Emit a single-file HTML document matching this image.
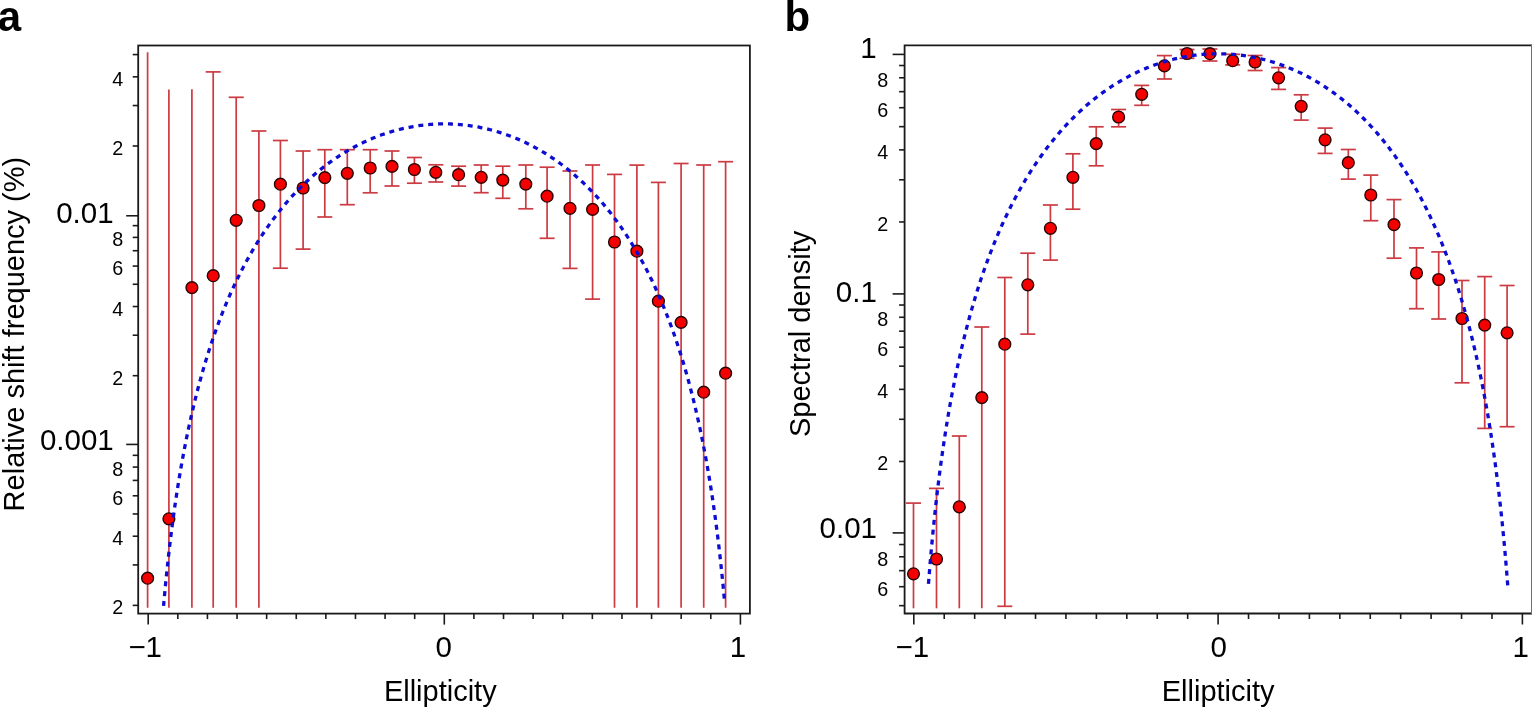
<!DOCTYPE html>
<html><head><meta charset="utf-8"><title>Ellipticity plots</title>
<style>
html,body{margin:0;padding:0;background:#fff;}
body{width:1532px;height:708px;overflow:hidden;}
svg{display:block;}
text{font-family:'Liberation Sans', Arial, Helvetica, sans-serif;fill:#000;}
</style></head>
<body>
<svg width="1532" height="708" viewBox="0 0 1532 708">
<rect width="1532" height="708" fill="#fff"/>
<g stroke="#cc3a42" stroke-width="1.7" fill="none">
<line x1="147.60" y1="52.20" x2="147.60" y2="607.80"/>
<line x1="168.90" y1="89.50" x2="168.90" y2="607.80"/>
<line x1="191.90" y1="89.20" x2="191.90" y2="607.80"/>
<line x1="213.20" y1="71.90" x2="213.20" y2="607.80"/>
<line x1="205.70" y1="71.90" x2="220.70" y2="71.90"/>
<line x1="236.20" y1="97.30" x2="236.20" y2="607.80"/>
<line x1="228.70" y1="97.30" x2="243.70" y2="97.30"/>
<line x1="258.90" y1="131.00" x2="258.90" y2="607.80"/>
<line x1="251.40" y1="131.00" x2="266.40" y2="131.00"/>
<line x1="280.40" y1="140.50" x2="280.40" y2="268.20"/>
<line x1="272.90" y1="140.50" x2="287.90" y2="140.50"/>
<line x1="272.90" y1="268.20" x2="287.90" y2="268.20"/>
<line x1="303.10" y1="151.00" x2="303.10" y2="249.10"/>
<line x1="295.60" y1="151.00" x2="310.60" y2="151.00"/>
<line x1="295.60" y1="249.10" x2="310.60" y2="249.10"/>
<line x1="324.80" y1="149.70" x2="324.80" y2="217.00"/>
<line x1="317.30" y1="149.70" x2="332.30" y2="149.70"/>
<line x1="317.30" y1="217.00" x2="332.30" y2="217.00"/>
<line x1="347.30" y1="149.70" x2="347.30" y2="204.70"/>
<line x1="339.80" y1="149.70" x2="354.80" y2="149.70"/>
<line x1="339.80" y1="204.70" x2="354.80" y2="204.70"/>
<line x1="370.20" y1="149.70" x2="370.20" y2="192.80"/>
<line x1="362.70" y1="149.70" x2="377.70" y2="149.70"/>
<line x1="362.70" y1="192.80" x2="377.70" y2="192.80"/>
<line x1="392.00" y1="151.00" x2="392.00" y2="186.00"/>
<line x1="384.50" y1="151.00" x2="399.50" y2="151.00"/>
<line x1="384.50" y1="186.00" x2="399.50" y2="186.00"/>
<line x1="414.40" y1="157.50" x2="414.40" y2="183.20"/>
<line x1="406.90" y1="157.50" x2="421.90" y2="157.50"/>
<line x1="406.90" y1="183.20" x2="421.90" y2="183.20"/>
<line x1="435.80" y1="164.80" x2="435.80" y2="182.00"/>
<line x1="428.30" y1="164.80" x2="443.30" y2="164.80"/>
<line x1="428.30" y1="182.00" x2="443.30" y2="182.00"/>
<line x1="458.60" y1="166.20" x2="458.60" y2="186.10"/>
<line x1="451.10" y1="166.20" x2="466.10" y2="166.20"/>
<line x1="451.10" y1="186.10" x2="466.10" y2="186.10"/>
<line x1="481.20" y1="165.00" x2="481.20" y2="192.70"/>
<line x1="473.70" y1="165.00" x2="488.70" y2="165.00"/>
<line x1="473.70" y1="192.70" x2="488.70" y2="192.70"/>
<line x1="502.80" y1="166.20" x2="502.80" y2="198.30"/>
<line x1="495.30" y1="166.20" x2="510.30" y2="166.20"/>
<line x1="495.30" y1="198.30" x2="510.30" y2="198.30"/>
<line x1="525.80" y1="165.00" x2="525.80" y2="208.80"/>
<line x1="518.30" y1="165.00" x2="533.30" y2="165.00"/>
<line x1="518.30" y1="208.80" x2="533.30" y2="208.80"/>
<line x1="547.10" y1="167.20" x2="547.10" y2="238.30"/>
<line x1="539.60" y1="167.20" x2="554.60" y2="167.20"/>
<line x1="539.60" y1="238.30" x2="554.60" y2="238.30"/>
<line x1="570.00" y1="171.00" x2="570.00" y2="268.40"/>
<line x1="562.50" y1="171.00" x2="577.50" y2="171.00"/>
<line x1="562.50" y1="268.40" x2="577.50" y2="268.40"/>
<line x1="592.60" y1="165.00" x2="592.60" y2="299.10"/>
<line x1="585.10" y1="165.00" x2="600.10" y2="165.00"/>
<line x1="585.10" y1="299.10" x2="600.10" y2="299.10"/>
<line x1="614.50" y1="174.40" x2="614.50" y2="607.80"/>
<line x1="607.00" y1="174.40" x2="622.00" y2="174.40"/>
<line x1="636.90" y1="165.10" x2="636.90" y2="607.80"/>
<line x1="629.40" y1="165.10" x2="644.40" y2="165.10"/>
<line x1="658.40" y1="182.40" x2="658.40" y2="607.80"/>
<line x1="650.90" y1="182.40" x2="665.90" y2="182.40"/>
<line x1="681.10" y1="163.50" x2="681.10" y2="607.80"/>
<line x1="673.60" y1="163.50" x2="688.60" y2="163.50"/>
<line x1="703.70" y1="165.00" x2="703.70" y2="607.80"/>
<line x1="696.20" y1="165.00" x2="711.20" y2="165.00"/>
<line x1="725.60" y1="161.70" x2="725.60" y2="607.80"/>
<line x1="718.10" y1="161.70" x2="733.10" y2="161.70"/>
</g>
<g fill="#f40000" stroke="#2a0505" stroke-width="1.4">
<circle cx="147.60" cy="578.20" r="5.9"/>
<circle cx="168.90" cy="518.80" r="5.9"/>
<circle cx="191.90" cy="287.60" r="5.9"/>
<circle cx="213.20" cy="275.70" r="5.9"/>
<circle cx="236.20" cy="220.30" r="5.9"/>
<circle cx="258.90" cy="205.50" r="5.9"/>
<circle cx="280.40" cy="184.20" r="5.9"/>
<circle cx="303.10" cy="188.00" r="5.9"/>
<circle cx="324.80" cy="177.60" r="5.9"/>
<circle cx="347.30" cy="173.30" r="5.9"/>
<circle cx="370.20" cy="168.00" r="5.9"/>
<circle cx="392.00" cy="166.40" r="5.9"/>
<circle cx="414.40" cy="169.50" r="5.9"/>
<circle cx="435.80" cy="172.30" r="5.9"/>
<circle cx="458.60" cy="174.70" r="5.9"/>
<circle cx="481.20" cy="177.30" r="5.9"/>
<circle cx="502.80" cy="180.10" r="5.9"/>
<circle cx="525.80" cy="184.10" r="5.9"/>
<circle cx="547.10" cy="196.20" r="5.9"/>
<circle cx="570.00" cy="208.30" r="5.9"/>
<circle cx="592.60" cy="209.40" r="5.9"/>
<circle cx="614.50" cy="242.00" r="5.9"/>
<circle cx="636.90" cy="251.20" r="5.9"/>
<circle cx="658.40" cy="301.20" r="5.9"/>
<circle cx="681.10" cy="322.40" r="5.9"/>
<circle cx="703.70" cy="392.20" r="5.9"/>
<circle cx="725.60" cy="373.20" r="5.9"/>
</g>
<polyline points="163.55,605.96 164.95,590.52 166.35,576.19 167.76,562.83 169.16,550.30 170.56,538.51 171.96,527.37 173.37,516.82 174.77,506.80 176.17,497.26 177.57,488.15 178.98,479.43 180.38,471.08 181.78,463.07 183.19,455.37 184.59,447.95 185.99,440.81 187.39,433.91 188.80,427.25 190.20,420.81 191.60,414.57 193.01,408.53 194.41,402.67 195.81,396.98 197.21,391.45 198.62,386.09 200.02,380.86 201.42,375.78 202.82,370.84 204.23,366.01 205.63,361.32 207.03,356.73 208.44,352.26 209.84,347.90 211.24,343.63 212.64,339.47 214.05,335.40 215.45,331.42 216.85,327.52 218.26,323.72 219.66,319.99 221.06,316.34 222.46,312.76 223.87,309.26 225.27,305.83 226.67,302.47 228.07,299.17 229.48,295.94 230.88,292.76 232.28,289.65 233.69,286.60 235.09,283.60 236.49,280.66 237.89,277.77 239.30,274.94 240.70,272.15 242.10,269.42 243.51,266.73 244.91,264.09 246.31,261.49 247.71,258.94 249.12,256.43 250.52,253.96 251.92,251.54 253.32,249.15 254.73,246.81 256.13,244.50 257.53,242.23 258.94,240.00 260.34,237.80 261.74,235.64 263.14,233.51 264.55,231.42 265.95,229.36 267.35,227.33 268.76,225.33 270.16,223.37 271.56,221.43 272.96,219.53 274.37,217.65 275.77,215.80 277.17,213.98 278.57,212.19 279.98,210.43 281.38,208.69 282.78,206.98 284.19,205.29 285.59,203.63 286.99,202.00 288.39,200.39 289.80,198.80 291.20,197.24 292.60,195.70 294.01,194.19 295.41,192.69 296.81,191.22 298.21,189.77 299.62,188.35 301.02,186.94 302.42,185.56 303.82,184.19 305.23,182.85 306.63,181.53 308.03,180.22 309.44,178.94 310.84,177.68 312.24,176.43 313.64,175.21 315.05,174.00 316.45,172.81 317.85,171.64 319.26,170.49 320.66,169.35 322.06,168.24 323.46,167.14 324.87,166.05 326.27,164.99 327.67,163.94 329.07,162.91 330.48,161.89 331.88,160.89 333.28,159.91 334.69,158.94 336.09,157.99 337.49,157.05 338.89,156.13 340.30,155.23 341.70,154.34 343.10,153.46 344.51,152.60 345.91,151.76 347.31,150.92 348.71,150.11 350.12,149.31 351.52,148.52 352.92,147.74 354.32,146.98 355.73,146.24 357.13,145.51 358.53,144.79 359.94,144.08 361.34,143.39 362.74,142.71 364.14,142.05 365.55,141.40 366.95,140.76 368.35,140.13 369.75,139.52 371.16,138.92 372.56,138.33 373.96,137.76 375.37,137.19 376.77,136.64 378.17,136.11 379.57,135.58 380.98,135.07 382.38,134.57 383.78,134.08 385.19,133.60 386.59,133.14 387.99,132.69 389.39,132.25 390.80,131.82 392.20,131.40 393.60,131.00 395.00,130.60 396.41,130.22 397.81,129.85 399.21,129.49 400.62,129.14 402.02,128.81 403.42,128.48 404.82,128.17 406.23,127.87 407.63,127.58 409.03,127.30 410.44,127.03 411.84,126.77 413.24,126.53 414.64,126.29 416.05,126.07 417.45,125.85 418.85,125.65 420.25,125.46 421.66,125.28 423.06,125.11 424.46,124.95 425.87,124.81 427.27,124.67 428.67,124.55 430.07,124.43 431.48,124.33 432.88,124.23 434.28,124.15 435.69,124.08 437.09,124.02 438.49,123.97 439.89,123.93 441.30,123.90 442.70,123.89 444.10,123.88 445.50,123.88 446.91,123.90 448.31,123.93 449.71,123.96 451.12,124.01 452.52,124.07 453.92,124.14 455.32,124.22 456.73,124.31 458.13,124.41 459.53,124.52 460.94,124.64 462.34,124.78 463.74,124.92 465.14,125.08 466.55,125.24 467.95,125.42 469.35,125.61 470.75,125.81 472.16,126.02 473.56,126.24 474.96,126.47 476.37,126.72 477.77,126.97 479.17,127.24 480.57,127.52 481.98,127.80 483.38,128.10 484.78,128.42 486.19,128.74 487.59,129.07 488.99,129.42 490.39,129.77 491.80,130.14 493.20,130.52 494.60,130.91 496.00,131.31 497.41,131.73 498.81,132.15 500.21,132.59 501.62,133.04 503.02,133.50 504.42,133.98 505.82,134.46 507.23,134.96 508.63,135.47 510.03,135.99 511.44,136.53 512.84,137.08 514.24,137.64 515.64,138.21 517.05,138.79 518.45,139.39 519.85,140.00 521.25,140.62 522.66,141.26 524.06,141.91 525.46,142.57 526.87,143.25 528.27,143.94 529.67,144.64 531.07,145.35 532.48,146.08 533.88,146.83 535.28,147.58 536.69,148.35 538.09,149.14 539.49,149.94 540.89,150.75 542.30,151.58 543.70,152.42 545.10,153.28 546.50,154.15 547.91,155.04 549.31,155.94 550.71,156.86 552.12,157.79 553.52,158.74 554.92,159.70 556.32,160.68 557.73,161.68 559.13,162.69 560.53,163.72 561.93,164.76 563.34,165.83 564.74,166.91 566.14,168.00 567.55,169.11 568.95,170.25 570.35,171.39 571.75,172.56 573.16,173.75 574.56,174.95 575.96,176.17 577.37,177.41 578.77,178.67 580.17,179.95 581.57,181.25 582.98,182.57 584.38,183.91 585.78,185.27 587.18,186.65 588.59,188.05 589.99,189.47 591.39,190.91 592.80,192.38 594.20,193.87 595.60,195.38 597.00,196.91 598.41,198.47 599.81,200.05 601.21,201.66 602.62,203.29 604.02,204.94 605.42,206.62 606.82,208.33 608.23,210.06 609.63,211.82 611.03,213.60 612.43,215.42 613.84,217.26 615.24,219.13 616.64,221.03 618.05,222.96 619.45,224.91 620.85,226.90 622.25,228.93 623.66,230.98 625.06,233.07 626.46,235.19 627.87,237.34 629.27,239.53 630.67,241.76 632.07,244.02 633.48,246.32 634.88,248.66 636.28,251.03 637.68,253.45 639.09,255.91 640.49,258.41 641.89,260.95 643.30,263.54 644.70,266.17 646.10,268.85 647.50,271.57 648.91,274.35 650.31,277.17 651.71,280.05 653.12,282.98 654.52,285.96 655.92,289.00 657.32,292.10 658.73,295.26 660.13,298.48 661.53,301.76 662.93,305.11 664.34,308.53 665.74,312.02 667.14,315.58 668.55,319.21 669.95,322.92 671.35,326.71 672.75,330.59 674.16,334.55 675.56,338.60 676.96,342.75 678.37,346.99 679.77,351.33 681.17,355.78 682.57,360.34 683.98,365.01 685.38,369.81 686.78,374.73 688.18,379.78 689.59,384.97 690.99,390.31 692.39,395.80 693.80,401.45 695.20,407.27 696.60,413.28 698.00,419.47 699.41,425.87 700.81,432.49 702.21,439.33 703.62,446.42 705.02,453.78 706.42,461.42 707.82,469.37 709.23,477.64 710.63,486.27 712.03,495.30 713.43,504.75 714.84,514.66 716.24,525.10 717.64,536.10 719.05,547.75 720.45,560.12 721.85,573.30 723.25,587.41 724.66,602.60" fill="none" stroke="#0c0cd2" stroke-width="3.3" stroke-dasharray="5.0 4.9"/>
<rect x="138.2" y="45.5" width="611.7" height="568.1" fill="none" stroke="#1a1a1a" stroke-width="1.8"/>
<g stroke="#1a1a1a" stroke-width="1.6">
<line x1="126.20" y1="215.77" x2="138.2" y2="215.77"/>
<line x1="126.20" y1="444.43" x2="138.2" y2="444.43"/>
<line x1="132.7" y1="605.37" x2="138.2" y2="605.37"/>
<line x1="132.7" y1="564.92" x2="138.2" y2="564.92"/>
<line x1="132.7" y1="536.22" x2="138.2" y2="536.22"/>
<line x1="132.7" y1="513.96" x2="138.2" y2="513.96"/>
<line x1="132.7" y1="495.78" x2="138.2" y2="495.78"/>
<line x1="132.7" y1="480.40" x2="138.2" y2="480.40"/>
<line x1="132.7" y1="467.08" x2="138.2" y2="467.08"/>
<line x1="132.7" y1="455.33" x2="138.2" y2="455.33"/>
<line x1="132.7" y1="375.68" x2="138.2" y2="375.68"/>
<line x1="132.7" y1="335.23" x2="138.2" y2="335.23"/>
<line x1="132.7" y1="306.53" x2="138.2" y2="306.53"/>
<line x1="132.7" y1="284.27" x2="138.2" y2="284.27"/>
<line x1="132.7" y1="266.09" x2="138.2" y2="266.09"/>
<line x1="132.7" y1="250.71" x2="138.2" y2="250.71"/>
<line x1="132.7" y1="237.39" x2="138.2" y2="237.39"/>
<line x1="132.7" y1="225.64" x2="138.2" y2="225.64"/>
<line x1="132.7" y1="145.99" x2="138.2" y2="145.99"/>
<line x1="132.7" y1="105.54" x2="138.2" y2="105.54"/>
<line x1="132.7" y1="76.84" x2="138.2" y2="76.84"/>
<line x1="132.7" y1="54.58" x2="138.2" y2="54.58"/>
<line x1="148.20" y1="613.6" x2="148.20" y2="624.6"/>
<line x1="177.81" y1="613.6" x2="177.81" y2="619.1"/>
<line x1="207.42" y1="613.6" x2="207.42" y2="619.1"/>
<line x1="237.03" y1="613.6" x2="237.03" y2="619.1"/>
<line x1="266.64" y1="613.6" x2="266.64" y2="619.1"/>
<line x1="296.25" y1="613.6" x2="296.25" y2="619.1"/>
<line x1="325.86" y1="613.6" x2="325.86" y2="619.1"/>
<line x1="355.47" y1="613.6" x2="355.47" y2="619.1"/>
<line x1="385.08" y1="613.6" x2="385.08" y2="619.1"/>
<line x1="414.69" y1="613.6" x2="414.69" y2="619.1"/>
<line x1="444.30" y1="613.6" x2="444.30" y2="624.6"/>
<line x1="473.91" y1="613.6" x2="473.91" y2="619.1"/>
<line x1="503.52" y1="613.6" x2="503.52" y2="619.1"/>
<line x1="533.13" y1="613.6" x2="533.13" y2="619.1"/>
<line x1="562.74" y1="613.6" x2="562.74" y2="619.1"/>
<line x1="592.35" y1="613.6" x2="592.35" y2="619.1"/>
<line x1="621.96" y1="613.6" x2="621.96" y2="619.1"/>
<line x1="651.57" y1="613.6" x2="651.57" y2="619.1"/>
<line x1="681.18" y1="613.6" x2="681.18" y2="619.1"/>
<line x1="710.79" y1="613.6" x2="710.79" y2="619.1"/>
<line x1="740.40" y1="613.6" x2="740.40" y2="624.6"/>
</g>
<g stroke="#cc3a42" stroke-width="1.7" fill="none">
<line x1="913.50" y1="503.10" x2="913.50" y2="608.30"/>
<line x1="906.00" y1="503.10" x2="921.00" y2="503.10"/>
<line x1="936.50" y1="488.40" x2="936.50" y2="608.30"/>
<line x1="929.00" y1="488.40" x2="944.00" y2="488.40"/>
<line x1="959.30" y1="436.00" x2="959.30" y2="608.30"/>
<line x1="951.80" y1="436.00" x2="966.80" y2="436.00"/>
<line x1="981.80" y1="327.00" x2="981.80" y2="608.30"/>
<line x1="974.30" y1="327.00" x2="989.30" y2="327.00"/>
<line x1="1004.80" y1="277.50" x2="1004.80" y2="606.30"/>
<line x1="997.30" y1="277.50" x2="1012.30" y2="277.50"/>
<line x1="997.30" y1="606.30" x2="1012.30" y2="606.30"/>
<line x1="1027.80" y1="253.20" x2="1027.80" y2="334.10"/>
<line x1="1020.30" y1="253.20" x2="1035.30" y2="253.20"/>
<line x1="1020.30" y1="334.10" x2="1035.30" y2="334.10"/>
<line x1="1050.40" y1="205.00" x2="1050.40" y2="260.10"/>
<line x1="1042.90" y1="205.00" x2="1057.90" y2="205.00"/>
<line x1="1042.90" y1="260.10" x2="1057.90" y2="260.10"/>
<line x1="1072.90" y1="153.80" x2="1072.90" y2="209.20"/>
<line x1="1065.40" y1="153.80" x2="1080.40" y2="153.80"/>
<line x1="1065.40" y1="209.20" x2="1080.40" y2="209.20"/>
<line x1="1096.20" y1="126.80" x2="1096.20" y2="165.80"/>
<line x1="1088.70" y1="126.80" x2="1103.70" y2="126.80"/>
<line x1="1088.70" y1="165.80" x2="1103.70" y2="165.80"/>
<line x1="1118.60" y1="109.50" x2="1118.60" y2="126.80"/>
<line x1="1111.10" y1="109.50" x2="1126.10" y2="109.50"/>
<line x1="1111.10" y1="126.80" x2="1126.10" y2="126.80"/>
<line x1="1141.70" y1="85.40" x2="1141.70" y2="105.30"/>
<line x1="1134.20" y1="85.40" x2="1149.20" y2="85.40"/>
<line x1="1134.20" y1="105.30" x2="1149.20" y2="105.30"/>
<line x1="1164.40" y1="55.60" x2="1164.40" y2="79.00"/>
<line x1="1156.90" y1="55.60" x2="1171.90" y2="55.60"/>
<line x1="1156.90" y1="79.00" x2="1171.90" y2="79.00"/>
<line x1="1187.00" y1="49.50" x2="1187.00" y2="58.30"/>
<line x1="1179.50" y1="49.50" x2="1194.50" y2="49.50"/>
<line x1="1179.50" y1="58.30" x2="1194.50" y2="58.30"/>
<line x1="1209.90" y1="49.00" x2="1209.90" y2="61.00"/>
<line x1="1202.40" y1="49.00" x2="1217.40" y2="49.00"/>
<line x1="1202.40" y1="61.00" x2="1217.40" y2="61.00"/>
<line x1="1232.70" y1="54.30" x2="1232.70" y2="64.90"/>
<line x1="1225.20" y1="54.30" x2="1240.20" y2="54.30"/>
<line x1="1225.20" y1="64.90" x2="1240.20" y2="64.90"/>
<line x1="1255.10" y1="55.50" x2="1255.10" y2="70.50"/>
<line x1="1247.60" y1="55.50" x2="1262.60" y2="55.50"/>
<line x1="1247.60" y1="70.50" x2="1262.60" y2="70.50"/>
<line x1="1278.60" y1="67.60" x2="1278.60" y2="89.40"/>
<line x1="1271.10" y1="67.60" x2="1286.10" y2="67.60"/>
<line x1="1271.10" y1="89.40" x2="1286.10" y2="89.40"/>
<line x1="1301.20" y1="94.80" x2="1301.20" y2="120.10"/>
<line x1="1293.70" y1="94.80" x2="1308.70" y2="94.80"/>
<line x1="1293.70" y1="120.10" x2="1308.70" y2="120.10"/>
<line x1="1325.10" y1="128.10" x2="1325.10" y2="153.40"/>
<line x1="1317.60" y1="128.10" x2="1332.60" y2="128.10"/>
<line x1="1317.60" y1="153.40" x2="1332.60" y2="153.40"/>
<line x1="1348.30" y1="149.50" x2="1348.30" y2="179.10"/>
<line x1="1340.80" y1="149.50" x2="1355.80" y2="149.50"/>
<line x1="1340.80" y1="179.10" x2="1355.80" y2="179.10"/>
<line x1="1370.80" y1="175.10" x2="1370.80" y2="220.70"/>
<line x1="1363.30" y1="175.10" x2="1378.30" y2="175.10"/>
<line x1="1363.30" y1="220.70" x2="1378.30" y2="220.70"/>
<line x1="1394.00" y1="199.60" x2="1394.00" y2="258.20"/>
<line x1="1386.50" y1="199.60" x2="1401.50" y2="199.60"/>
<line x1="1386.50" y1="258.20" x2="1401.50" y2="258.20"/>
<line x1="1416.50" y1="247.90" x2="1416.50" y2="308.70"/>
<line x1="1409.00" y1="247.90" x2="1424.00" y2="247.90"/>
<line x1="1409.00" y1="308.70" x2="1424.00" y2="308.70"/>
<line x1="1438.70" y1="251.90" x2="1438.70" y2="319.00"/>
<line x1="1431.20" y1="251.90" x2="1446.20" y2="251.90"/>
<line x1="1431.20" y1="319.00" x2="1446.20" y2="319.00"/>
<line x1="1462.00" y1="280.50" x2="1462.00" y2="382.80"/>
<line x1="1454.50" y1="280.50" x2="1469.50" y2="280.50"/>
<line x1="1454.50" y1="382.80" x2="1469.50" y2="382.80"/>
<line x1="1484.70" y1="276.60" x2="1484.70" y2="428.40"/>
<line x1="1477.20" y1="276.60" x2="1492.20" y2="276.60"/>
<line x1="1477.20" y1="428.40" x2="1492.20" y2="428.40"/>
<line x1="1507.10" y1="285.50" x2="1507.10" y2="426.70"/>
<line x1="1499.60" y1="285.50" x2="1514.60" y2="285.50"/>
<line x1="1499.60" y1="426.70" x2="1514.60" y2="426.70"/>
</g>
<g fill="#f40000" stroke="#2a0505" stroke-width="1.4">
<circle cx="913.50" cy="573.80" r="5.9"/>
<circle cx="936.50" cy="559.00" r="5.9"/>
<circle cx="959.30" cy="506.80" r="5.9"/>
<circle cx="981.80" cy="397.60" r="5.9"/>
<circle cx="1004.80" cy="344.20" r="5.9"/>
<circle cx="1027.80" cy="284.80" r="5.9"/>
<circle cx="1050.40" cy="228.30" r="5.9"/>
<circle cx="1072.90" cy="177.30" r="5.9"/>
<circle cx="1096.20" cy="143.60" r="5.9"/>
<circle cx="1118.60" cy="117.00" r="5.9"/>
<circle cx="1141.70" cy="94.30" r="5.9"/>
<circle cx="1164.40" cy="65.90" r="5.9"/>
<circle cx="1187.00" cy="53.50" r="5.9"/>
<circle cx="1209.90" cy="53.70" r="5.9"/>
<circle cx="1232.70" cy="60.70" r="5.9"/>
<circle cx="1255.10" cy="62.00" r="5.9"/>
<circle cx="1278.60" cy="77.80" r="5.9"/>
<circle cx="1301.20" cy="106.30" r="5.9"/>
<circle cx="1325.10" cy="139.80" r="5.9"/>
<circle cx="1348.30" cy="162.70" r="5.9"/>
<circle cx="1370.80" cy="195.00" r="5.9"/>
<circle cx="1394.00" cy="224.60" r="5.9"/>
<circle cx="1416.50" cy="273.00" r="5.9"/>
<circle cx="1438.70" cy="279.50" r="5.9"/>
<circle cx="1462.00" cy="318.50" r="5.9"/>
<circle cx="1484.70" cy="325.10" r="5.9"/>
<circle cx="1507.10" cy="332.80" r="5.9"/>
</g>
<polyline points="928.46,583.95 929.91,565.88 931.36,549.22 932.81,533.77 934.26,519.37 935.70,505.88 937.15,493.20 938.60,481.22 940.05,469.88 941.50,459.12 942.95,448.87 944.40,439.10 945.85,429.76 947.29,420.81 948.74,412.22 950.19,403.98 951.64,396.04 953.09,388.40 954.54,381.02 955.99,373.90 957.44,367.02 958.88,360.36 960.33,353.91 961.78,347.65 963.23,341.58 964.68,335.69 966.13,329.97 967.58,324.41 969.02,318.99 970.47,313.72 971.92,308.59 973.37,303.59 974.82,298.72 976.27,293.96 977.72,289.32 979.17,284.79 980.61,280.36 982.06,276.04 983.51,271.81 984.96,267.67 986.41,263.63 987.86,259.67 989.31,255.80 990.76,252.01 992.20,248.29 993.65,244.66 995.10,241.09 996.55,237.60 998.00,234.17 999.45,230.81 1000.90,227.52 1002.34,224.28 1003.79,221.11 1005.24,218.00 1006.69,214.94 1008.14,211.94 1009.59,209.00 1011.04,206.10 1012.49,203.26 1013.93,200.47 1015.38,197.72 1016.83,195.03 1018.28,192.38 1019.73,189.77 1021.18,187.21 1022.63,184.69 1024.08,182.21 1025.52,179.78 1026.97,177.38 1028.42,175.03 1029.87,172.71 1031.32,170.43 1032.77,168.18 1034.22,165.98 1035.67,163.80 1037.11,161.67 1038.56,159.56 1040.01,157.49 1041.46,155.45 1042.91,153.44 1044.36,151.47 1045.81,149.52 1047.25,147.61 1048.70,145.72 1050.15,143.86 1051.60,142.04 1053.05,140.24 1054.50,138.46 1055.95,136.72 1057.40,135.00 1058.84,133.30 1060.29,131.64 1061.74,129.99 1063.19,128.38 1064.64,126.78 1066.09,125.22 1067.54,123.67 1068.99,122.15 1070.43,120.65 1071.88,119.18 1073.33,117.72 1074.78,116.29 1076.23,114.88 1077.68,113.49 1079.13,112.13 1080.58,110.78 1082.02,109.46 1083.47,108.15 1084.92,106.87 1086.37,105.60 1087.82,104.35 1089.27,103.13 1090.72,101.92 1092.16,100.73 1093.61,99.56 1095.06,98.41 1096.51,97.28 1097.96,96.16 1099.41,95.07 1100.86,93.99 1102.31,92.93 1103.75,91.88 1105.20,90.85 1106.65,89.84 1108.10,88.85 1109.55,87.87 1111.00,86.91 1112.45,85.96 1113.90,85.03 1115.34,84.12 1116.79,83.22 1118.24,82.34 1119.69,81.47 1121.14,80.62 1122.59,79.79 1124.04,78.97 1125.48,78.16 1126.93,77.37 1128.38,76.59 1129.83,75.83 1131.28,75.08 1132.73,74.35 1134.18,73.63 1135.63,72.92 1137.07,72.23 1138.52,71.56 1139.97,70.89 1141.42,70.24 1142.87,69.61 1144.32,68.99 1145.77,68.38 1147.22,67.78 1148.66,67.20 1150.11,66.63 1151.56,66.08 1153.01,65.53 1154.46,65.00 1155.91,64.49 1157.36,63.98 1158.81,63.49 1160.25,63.01 1161.70,62.55 1163.15,62.10 1164.60,61.65 1166.05,61.23 1167.50,60.81 1168.95,60.41 1170.39,60.02 1171.84,59.64 1173.29,59.27 1174.74,58.92 1176.19,58.57 1177.64,58.24 1179.09,57.92 1180.54,57.62 1181.98,57.32 1183.43,57.04 1184.88,56.77 1186.33,56.51 1187.78,56.26 1189.23,56.03 1190.68,55.80 1192.13,55.59 1193.57,55.39 1195.02,55.20 1196.47,55.03 1197.92,54.86 1199.37,54.71 1200.82,54.56 1202.27,54.43 1203.72,54.31 1205.16,54.21 1206.61,54.11 1208.06,54.03 1209.51,53.95 1210.96,53.89 1212.41,53.84 1213.86,53.80 1215.30,53.77 1216.75,53.76 1218.20,53.75 1219.65,53.76 1221.10,53.78 1222.55,53.81 1224.00,53.85 1225.45,53.90 1226.89,53.97 1228.34,54.04 1229.79,54.13 1231.24,54.23 1232.69,54.34 1234.14,54.46 1235.59,54.59 1237.04,54.74 1238.48,54.89 1239.93,55.06 1241.38,55.24 1242.83,55.43 1244.28,55.64 1245.73,55.85 1247.18,56.08 1248.63,56.31 1250.07,56.56 1251.52,56.83 1252.97,57.10 1254.42,57.38 1255.87,57.68 1257.32,57.99 1258.77,58.31 1260.21,58.64 1261.66,58.99 1263.11,59.35 1264.56,59.72 1266.01,60.10 1267.46,60.49 1268.91,60.90 1270.36,61.32 1271.80,61.75 1273.25,62.19 1274.70,62.65 1276.15,63.11 1277.60,63.59 1279.05,64.09 1280.50,64.60 1281.95,65.11 1283.39,65.65 1284.84,66.19 1286.29,66.75 1287.74,67.32 1289.19,67.91 1290.64,68.51 1292.09,69.12 1293.53,69.74 1294.98,70.38 1296.43,71.03 1297.88,71.70 1299.33,72.38 1300.78,73.07 1302.23,73.78 1303.68,74.50 1305.12,75.24 1306.57,75.99 1308.02,76.75 1309.47,77.53 1310.92,78.33 1312.37,79.14 1313.82,79.96 1315.27,80.80 1316.71,81.65 1318.16,82.52 1319.61,83.41 1321.06,84.31 1322.51,85.23 1323.96,86.16 1325.41,87.11 1326.86,88.07 1328.30,89.05 1329.75,90.05 1331.20,91.07 1332.65,92.10 1334.10,93.15 1335.55,94.21 1337.00,95.30 1338.44,96.40 1339.89,97.52 1341.34,98.65 1342.79,99.81 1344.24,100.98 1345.69,102.17 1347.14,103.38 1348.59,104.61 1350.03,105.86 1351.48,107.13 1352.93,108.42 1354.38,109.73 1355.83,111.06 1357.28,112.41 1358.73,113.78 1360.18,115.18 1361.62,116.59 1363.07,118.03 1364.52,119.48 1365.97,120.96 1367.42,122.47 1368.87,123.99 1370.32,125.54 1371.77,127.12 1373.21,128.72 1374.66,130.34 1376.11,131.99 1377.56,133.66 1379.01,135.36 1380.46,137.08 1381.91,138.83 1383.35,140.61 1384.80,142.42 1386.25,144.25 1387.70,146.11 1389.15,148.01 1390.60,149.93 1392.05,151.88 1393.50,153.86 1394.94,155.88 1396.39,157.92 1397.84,160.00 1399.29,162.11 1400.74,164.26 1402.19,166.44 1403.64,168.65 1405.09,170.90 1406.53,173.19 1407.98,175.52 1409.43,177.88 1410.88,180.29 1412.33,182.73 1413.78,185.22 1415.23,187.74 1416.67,190.31 1418.12,192.93 1419.57,195.59 1421.02,198.30 1422.47,201.05 1423.92,203.85 1425.37,206.71 1426.82,209.61 1428.26,212.57 1429.71,215.58 1431.16,218.65 1432.61,221.77 1434.06,224.96 1435.51,228.20 1436.96,231.51 1438.41,234.89 1439.85,238.33 1441.30,241.83 1442.75,245.41 1444.20,249.07 1445.65,252.80 1447.10,256.61 1448.55,260.50 1450.00,264.47 1451.44,268.53 1452.89,272.69 1454.34,276.94 1455.79,281.28 1457.24,285.73 1458.69,290.28 1460.14,294.95 1461.58,299.73 1463.03,304.63 1464.48,309.66 1465.93,314.82 1467.38,320.12 1468.83,325.56 1470.28,331.16 1471.73,336.92 1473.17,342.84 1474.62,348.95 1476.07,355.24 1477.52,361.74 1478.97,368.45 1480.42,375.38 1481.87,382.55 1483.32,389.98 1484.76,397.68 1486.21,405.68 1487.66,414.00 1489.11,422.66 1490.56,431.68 1492.01,441.12 1493.46,450.98 1494.91,461.34 1496.35,472.22 1497.80,483.68 1499.25,495.80 1500.70,508.65 1502.15,522.32 1503.60,536.93 1505.05,552.61 1506.49,569.55 1507.94,587.96" fill="none" stroke="#0c0cd2" stroke-width="3.3" stroke-dasharray="5.0 4.9"/>
<path d="M1532.1000000000001,45.3 H904.6 V613.5 H1532.1000000000001" fill="none" stroke="#1a1a1a" stroke-width="1.8" stroke-linejoin="miter" stroke-linecap="square"/>
<line x1="1531.5" y1="44.4" x2="1531.5" y2="614.4" stroke="#707070" stroke-width="1"/>
<g stroke="#1a1a1a" stroke-width="1.6">
<line x1="892.60" y1="54.40" x2="904.6" y2="54.40"/>
<line x1="892.60" y1="293.90" x2="904.6" y2="293.90"/>
<line x1="892.60" y1="532.90" x2="904.6" y2="532.90"/>
<line x1="899.1" y1="605.66" x2="904.6" y2="605.66"/>
<line x1="899.1" y1="586.70" x2="904.6" y2="586.70"/>
<line x1="899.1" y1="570.67" x2="904.6" y2="570.67"/>
<line x1="899.1" y1="556.78" x2="904.6" y2="556.78"/>
<line x1="899.1" y1="544.53" x2="904.6" y2="544.53"/>
<line x1="899.1" y1="461.47" x2="904.6" y2="461.47"/>
<line x1="899.1" y1="419.30" x2="904.6" y2="419.30"/>
<line x1="899.1" y1="389.37" x2="904.6" y2="389.37"/>
<line x1="899.1" y1="366.16" x2="904.6" y2="366.16"/>
<line x1="899.1" y1="347.20" x2="904.6" y2="347.20"/>
<line x1="899.1" y1="331.16" x2="904.6" y2="331.16"/>
<line x1="899.1" y1="317.27" x2="904.6" y2="317.27"/>
<line x1="899.1" y1="305.02" x2="904.6" y2="305.02"/>
<line x1="899.1" y1="221.97" x2="904.6" y2="221.97"/>
<line x1="899.1" y1="179.79" x2="904.6" y2="179.79"/>
<line x1="899.1" y1="149.87" x2="904.6" y2="149.87"/>
<line x1="899.1" y1="126.66" x2="904.6" y2="126.66"/>
<line x1="899.1" y1="107.70" x2="904.6" y2="107.70"/>
<line x1="899.1" y1="91.66" x2="904.6" y2="91.66"/>
<line x1="899.1" y1="77.77" x2="904.6" y2="77.77"/>
<line x1="899.1" y1="65.52" x2="904.6" y2="65.52"/>
<line x1="913.80" y1="613.5" x2="913.80" y2="624.5"/>
<line x1="944.23" y1="613.5" x2="944.23" y2="619.0"/>
<line x1="974.66" y1="613.5" x2="974.66" y2="619.0"/>
<line x1="1005.09" y1="613.5" x2="1005.09" y2="619.0"/>
<line x1="1035.52" y1="613.5" x2="1035.52" y2="619.0"/>
<line x1="1065.95" y1="613.5" x2="1065.95" y2="619.0"/>
<line x1="1096.38" y1="613.5" x2="1096.38" y2="619.0"/>
<line x1="1126.81" y1="613.5" x2="1126.81" y2="619.0"/>
<line x1="1157.24" y1="613.5" x2="1157.24" y2="619.0"/>
<line x1="1187.67" y1="613.5" x2="1187.67" y2="619.0"/>
<line x1="1218.10" y1="613.5" x2="1218.10" y2="624.5"/>
<line x1="1248.53" y1="613.5" x2="1248.53" y2="619.0"/>
<line x1="1278.96" y1="613.5" x2="1278.96" y2="619.0"/>
<line x1="1309.39" y1="613.5" x2="1309.39" y2="619.0"/>
<line x1="1339.82" y1="613.5" x2="1339.82" y2="619.0"/>
<line x1="1370.25" y1="613.5" x2="1370.25" y2="619.0"/>
<line x1="1400.68" y1="613.5" x2="1400.68" y2="619.0"/>
<line x1="1431.11" y1="613.5" x2="1431.11" y2="619.0"/>
<line x1="1461.54" y1="613.5" x2="1461.54" y2="619.0"/>
<line x1="1491.97" y1="613.5" x2="1491.97" y2="619.0"/>
<line x1="1522.40" y1="613.5" x2="1522.40" y2="624.5"/>
</g>
<g>
<text x="56.14" y="222.90" font-size="29.5" text-anchor="start" font-weight="normal" >0.01</text>
<text x="39.88" y="450.10" font-size="29.5" text-anchor="start" font-weight="normal" >0.001</text>
<text x="123.20" y="85.84" font-size="19.8" text-anchor="end" font-weight="normal" >4</text>
<text x="123.20" y="154.99" font-size="19.8" text-anchor="end" font-weight="normal" >2</text>
<text x="123.20" y="246.39" font-size="19.8" text-anchor="end" font-weight="normal" >8</text>
<text x="123.20" y="275.09" font-size="19.8" text-anchor="end" font-weight="normal" >6</text>
<text x="123.20" y="315.53" font-size="19.8" text-anchor="end" font-weight="normal" >4</text>
<text x="123.20" y="384.68" font-size="19.8" text-anchor="end" font-weight="normal" >2</text>
<text x="123.20" y="476.08" font-size="19.8" text-anchor="end" font-weight="normal" >8</text>
<text x="123.20" y="504.78" font-size="19.8" text-anchor="end" font-weight="normal" >6</text>
<text x="123.20" y="545.22" font-size="19.8" text-anchor="end" font-weight="normal" >4</text>
<text x="123.20" y="614.37" font-size="19.8" text-anchor="end" font-weight="normal" >2</text>
<text x="860.34" y="58.20" font-size="29.5" text-anchor="start" font-weight="normal" >1</text>
<text x="835.84" y="302.40" font-size="29.5" text-anchor="start" font-weight="normal" >0.1</text>
<text x="819.59" y="538.10" font-size="29.5" text-anchor="start" font-weight="normal" >0.01</text>
<text x="888.20" y="86.67" font-size="19.8" text-anchor="end" font-weight="normal" >8</text>
<text x="888.20" y="116.60" font-size="19.8" text-anchor="end" font-weight="normal" >6</text>
<text x="888.20" y="158.77" font-size="19.8" text-anchor="end" font-weight="normal" >4</text>
<text x="888.20" y="230.87" font-size="19.8" text-anchor="end" font-weight="normal" >2</text>
<text x="888.20" y="326.17" font-size="19.8" text-anchor="end" font-weight="normal" >8</text>
<text x="888.20" y="356.10" font-size="19.8" text-anchor="end" font-weight="normal" >6</text>
<text x="888.20" y="398.27" font-size="19.8" text-anchor="end" font-weight="normal" >4</text>
<text x="888.20" y="470.37" font-size="19.8" text-anchor="end" font-weight="normal" >2</text>
<text x="888.20" y="565.68" font-size="19.8" text-anchor="end" font-weight="normal" >8</text>
<text x="888.20" y="595.60" font-size="19.8" text-anchor="end" font-weight="normal" >6</text>
<text x="128.38" y="656.80" font-size="29.5" text-anchor="start" font-weight="normal" >−1</text>
<text x="435.55" y="656.80" font-size="29.5" text-anchor="start" font-weight="normal" >0</text>
<text x="729.79" y="656.80" font-size="29.5" text-anchor="start" font-weight="normal" >1</text>
<text x="895.53" y="656.80" font-size="29.5" text-anchor="start" font-weight="normal" >−1</text>
<text x="1210.60" y="656.80" font-size="29.5" text-anchor="start" font-weight="normal" >0</text>
<text x="1512.44" y="656.80" font-size="29.5" text-anchor="start" font-weight="normal" >1</text>
<text x="383.89" y="701.30" font-size="29.0" text-anchor="start" font-weight="normal" >Ellipticity</text>
<text x="1161.74" y="701.40" font-size="29.0" text-anchor="start" font-weight="normal" >Ellipticity</text>
<text x="-177.58" y="0" font-size="29.0" transform="translate(24.0,333.80) rotate(-90)">Relative shift frequency (%)</text>
<text x="-103.79" y="0" font-size="29.0" transform="translate(809.8,333.30) rotate(-90)">Spectral density</text>
<text x="-2.23" y="30.50" font-size="42" text-anchor="start" font-weight="bold" >a</text>
<text x="784.60" y="30.50" font-size="42" text-anchor="start" font-weight="bold" >b</text>
</g>
</svg>
</body></html>
